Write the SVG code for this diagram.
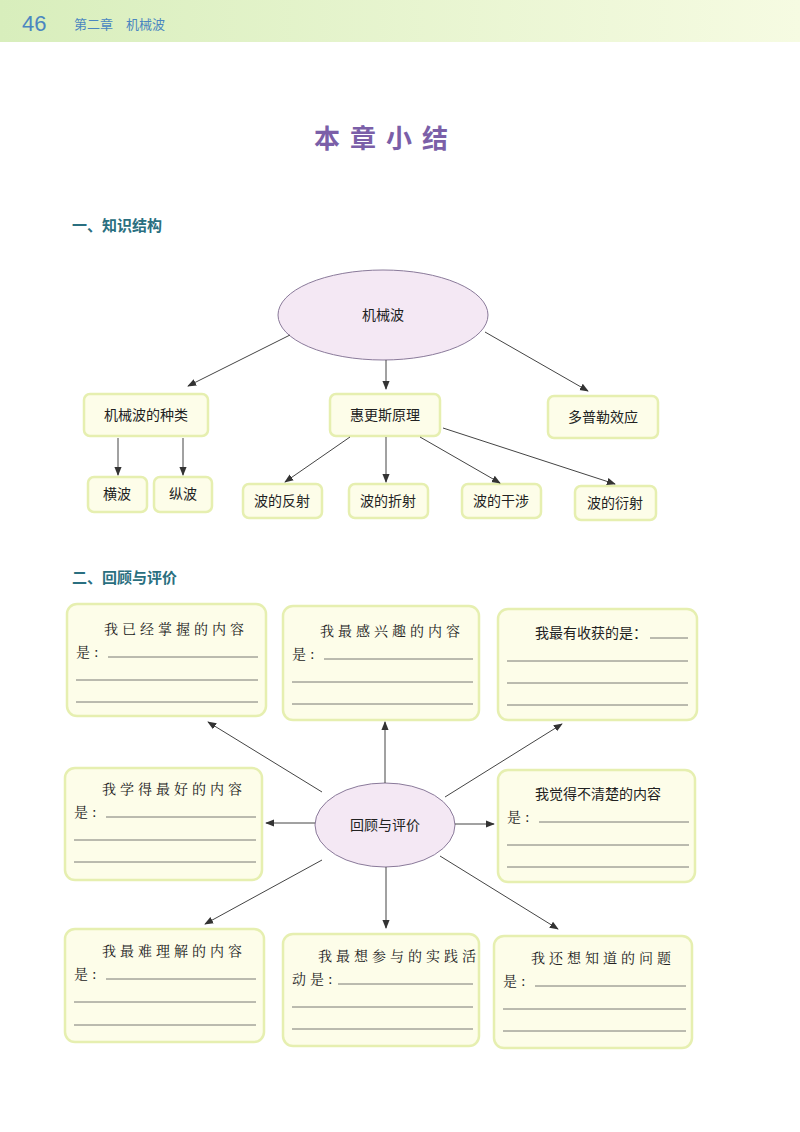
<svg xmlns="http://www.w3.org/2000/svg" width="800" height="1132" viewBox="0 0 800 1132">
<defs>
<linearGradient id="hdr" x1="0" x2="1"><stop offset="0" stop-color="#d8eebc"/><stop offset="1" stop-color="#f6fbe2"/></linearGradient>
<marker id="ar" viewBox="0 0 10 10" refX="9" refY="5" markerWidth="9" markerHeight="9" orient="auto" markerUnits="userSpaceOnUse"><path d="M0,1 L10,5 L0,9 Z" fill="#333"/></marker>
</defs>
<style>
.t{font-family:"Noto Sans CJK SC",sans-serif;fill:#222;font-size:14px}
.s{font-family:"Noto Serif CJK SC","Noto Sans CJK SC",serif;fill:#222;font-size:14px;letter-spacing:4px}
.b{fill:#fdfde9;stroke:#e6efb0;stroke-width:2.5}
.e{fill:#f4e8f4;stroke:#8a7a9a;stroke-width:1}
.c line{stroke:#444;stroke-width:1;marker-end:url(#ar)}
.u{stroke:#555;stroke-width:0.8}
.h{font-family:"Noto Sans CJK SC",sans-serif;font-weight:bold;fill:#2a6f80;font-size:15px}
</style>
<rect width="800" height="1132" fill="#ffffff"/>
<rect x="0" y="0" width="800" height="42" fill="url(#hdr)"/>
<text x="22" y="31" font-family="Liberation Sans,sans-serif" font-size="22" fill="#4a86c0">46</text>
<text x="74" y="29" class="t" style="fill:#4a86c0;font-size:13px">第二章　机械波</text>
<text x="386" y="148" text-anchor="middle" font-family="Noto Sans CJK SC,sans-serif" font-weight="bold" font-size="26" fill="#7b5fa8" letter-spacing="10">本章小结</text>
<text x="72" y="231" class="h">一、知识结构</text>
<text x="72" y="583" class="h">二、回顾与评价</text>

<g id="n-jxb"><ellipse class="e" cx="383" cy="315" rx="105" ry="45"/><text class="t" x="383" y="320" text-anchor="middle">机械波</text></g>
<g id="n-zl"><rect class="b" x="84" y="394" width="124" height="42" rx="6"/><text class="t" x="146" y="420" text-anchor="middle">机械波的种类</text></g>
<g id="n-hgs"><rect class="b" x="330" y="394" width="110" height="42" rx="6"/><text class="t" x="385" y="420" text-anchor="middle">惠更斯原理</text></g>
<g id="n-dpl"><rect class="b" x="548" y="396" width="110" height="42" rx="6"/><text class="t" x="603" y="422" text-anchor="middle">多普勒效应</text></g>
<g id="n-hb"><rect class="b" x="88" y="477" width="59" height="35" rx="6"/><text class="t" x="117" y="499" text-anchor="middle">横波</text></g>
<g id="n-zb"><rect class="b" x="154" y="477" width="58" height="35" rx="6"/><text class="t" x="183" y="499" text-anchor="middle">纵波</text></g>
<g id="n-fs"><rect class="b" x="243" y="484" width="79" height="34" rx="6"/><text class="t" x="282" y="506" text-anchor="middle">波的反射</text></g>
<g id="n-zs"><rect class="b" x="349" y="484" width="79" height="34" rx="6"/><text class="t" x="388" y="506" text-anchor="middle">波的折射</text></g>
<g id="n-gs"><rect class="b" x="462" y="484" width="79" height="34" rx="6"/><text class="t" x="501" y="506" text-anchor="middle">波的干涉</text></g>
<g id="n-ys"><rect class="b" x="575" y="486" width="81" height="34" rx="6"/><text class="t" x="615" y="508" text-anchor="middle">波的衍射</text></g>

<g id="n-hg"><ellipse class="e" cx="385" cy="825" rx="70" ry="42"/><text class="t" x="385" y="830" text-anchor="middle">回顾与评价</text></g>

<g id="b1"><rect class="b" x="67" y="604" width="199" height="112" rx="10"/><text class="s" x="104" y="634">我已经掌握的内容</text><text class="s" x="76" y="657">是:</text><line class="u" x1="108" y1="657" x2="258" y2="657"/><line class="u" x1="76" y1="680" x2="258" y2="680"/><line class="u" x1="76" y1="702" x2="258" y2="702"/></g>
<g id="b2"><rect class="b" x="283" y="606" width="196" height="114" rx="10"/><text class="s" x="320" y="636">我最感兴趣的内容</text><text class="s" x="292" y="659">是:</text><line class="u" x1="324" y1="659" x2="473" y2="659"/><line class="u" x1="292" y1="682" x2="473" y2="682"/><line class="u" x1="292" y1="704" x2="473" y2="704"/></g>
<g id="b3"><rect class="b" x="498" y="609" width="199" height="111" rx="10"/><text class="t" x="535" y="638">我最有收获的是：</text><line class="u" x1="650" y1="638" x2="688" y2="638"/><line class="u" x1="507" y1="661" x2="688" y2="661"/><line class="u" x1="507" y1="683" x2="688" y2="683"/><line class="u" x1="507" y1="705" x2="688" y2="705"/></g>
<g id="b4"><rect class="b" x="65" y="768" width="197" height="112" rx="10"/><text class="s" x="102" y="794">我学得最好的内容</text><text class="s" x="74" y="817">是:</text><line class="u" x1="106" y1="817" x2="256" y2="817"/><line class="u" x1="74" y1="840" x2="256" y2="840"/><line class="u" x1="74" y1="862" x2="256" y2="862"/></g>
<g id="b5"><rect class="b" x="498" y="770" width="197" height="112" rx="10"/><text class="t" x="535" y="799">我觉得不清楚的内容</text><text class="s" x="507" y="822">是:</text><line class="u" x1="539" y1="822" x2="689" y2="822"/><line class="u" x1="507" y1="845" x2="689" y2="845"/><line class="u" x1="507" y1="867" x2="689" y2="867"/></g>
<g id="b6"><rect class="b" x="65" y="929" width="199" height="113" rx="10"/><text class="s" x="102" y="956">我最难理解的内容</text><text class="s" x="74" y="979">是:</text><line class="u" x1="106" y1="979" x2="256" y2="979"/><line class="u" x1="74" y1="1002" x2="256" y2="1002"/><line class="u" x1="74" y1="1025" x2="256" y2="1025"/></g>
<g id="b7"><rect class="b" x="283" y="934" width="196" height="112" rx="10"/><text class="s" x="318" y="961">我最想参与的实践活</text><text class="s" x="292" y="984">动是:</text><line class="u" x1="338" y1="984" x2="473" y2="984"/><line class="u" x1="292" y1="1007" x2="473" y2="1007"/><line class="u" x1="292" y1="1029" x2="473" y2="1029"/></g>
<g id="b8"><rect class="b" x="494" y="936" width="198" height="112" rx="10"/><text class="s" x="531" y="963">我还想知道的问题</text><text class="s" x="503" y="986">是:</text><line class="u" x1="535" y1="986" x2="686" y2="986"/><line class="u" x1="503" y1="1009" x2="686" y2="1009"/><line class="u" x1="503" y1="1031" x2="686" y2="1031"/></g>

<g class="c" id="connectors">
<line x1="290" y1="335" x2="188" y2="386"/>
<line x1="386" y1="360" x2="386" y2="389"/>
<line x1="485" y1="332" x2="588" y2="391"/>
<line x1="118" y1="438" x2="118" y2="475"/>
<line x1="183" y1="438" x2="183" y2="475"/>
<line x1="350" y1="437" x2="285" y2="482"/>
<line x1="386" y1="437" x2="386" y2="482"/>
<line x1="420" y1="437" x2="500" y2="483"/>
<line x1="443" y1="428" x2="615" y2="484"/>
<line x1="322" y1="792" x2="208" y2="722"/>
<line x1="385" y1="783" x2="385" y2="722"/>
<line x1="445" y1="797" x2="562" y2="724"/>
<line x1="315" y1="823" x2="266" y2="823"/>
<line x1="455" y1="824" x2="494" y2="824"/>
<line x1="322" y1="860" x2="205" y2="924"/>
<line x1="386" y1="867" x2="386" y2="928"/>
<line x1="440" y1="856" x2="558" y2="929"/>
</g>
</svg>
